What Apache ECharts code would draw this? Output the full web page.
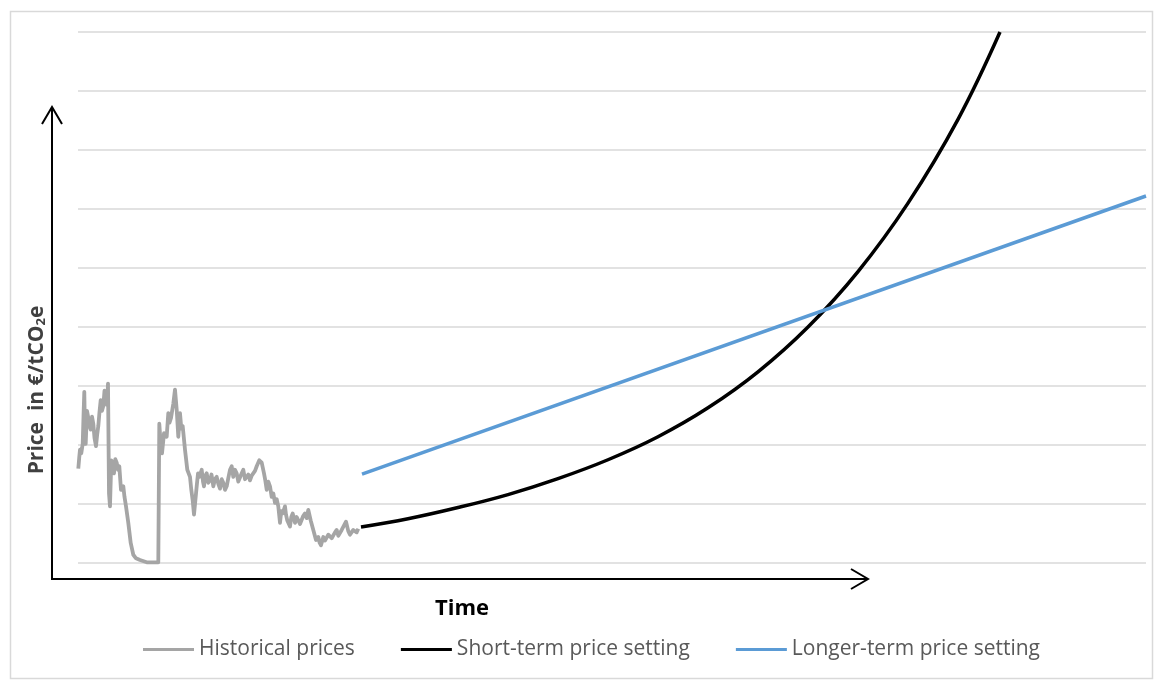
<!DOCTYPE html>
<html>
<head>
<meta charset="utf-8">
<title>Carbon price scenarios</title>
<script src="https://cdn.jsdelivr.net/npm/echarts@6/dist/echarts.min.js"></script>
<style>
  html, body { margin: 0; padding: 0; background: #fff; }
  #chart { width: 1154px; height: 680px; }
</style>
</head>
<body>
<div id="chart"></div>
<script>
// series names
const seriesNames = ['Historical prices', 'Short-term price setting', 'Longer-term price setting']

// historical prices (time units, price units - one gridline = 5)
const histTime = [0.3, 1.2, 2, 3.3, 4.7, 5.5, 6.3, 7, 7.7, 9, 10.3, 11.5, 12.7, 14, 15.3, 16.5, 18, 19.2, 20.3, 21.5, 22.7, 24, 25.3, 26.5, 27.7, 29, 30,
  31, 32, 33.3, 34.5, 36, 37.3, 38.7, 40, 41.3, 43, 45.3, 46.5, 48, 50.3, 52.7, 55.3, 58, 62, 68.7, 80.3,
  81.3, 82.7, 84, 86, 88.7, 90.3, 91.5, 93, 95.3, 97, 98.7, 100.3, 102, 103.3, 104.7, 107, 109.3, 112, 113.3, 114.7, 116,
  118.7, 120, 121.3, 123.7, 125, 126, 127.3, 128.7, 130.3, 132, 133.5, 135.3, 137, 138.7, 140.3, 142, 143.7, 145.3, 147, 148.7, 150.3, 152, 153.7,
  155.3, 157, 158.7, 160.3, 162, 163.7, 165.3, 167, 168.7, 170.3, 172, 173.7, 175.3, 177, 178.7, 181.3, 183.7, 186, 187.3, 188.7, 190.3, 192, 193.7,
  195.3, 197, 198.7, 200.3, 202, 203.3, 204.7, 207, 208, 209.3, 212, 213.3, 214.7, 217, 218.7, 220.3, 222, 223.7, 225.3, 227, 228.7, 230.3, 232.7,
  235.3, 238, 240.3, 241.7, 243, 245.3, 247, 248.7, 250.3, 252, 253.7, 255.3, 257, 258.7, 260.3, 262, 263.7, 265.3, 268, 270.3, 272,
  273.7, 275.3, 277, 278.7, 280.3]
const histPrice = [8.0, 8.9, 9.6, 9.3, 10.1, 12.4, 14.5, 11.0, 10.1, 12.9, 12.3, 11.6, 11.3, 12.4, 11.8, 10.6, 9.9, 10.9, 11.6, 12.8, 13.8, 12.9, 13.3, 14.6, 14.1, 13.4, 15.2,
  5.9, 4.8, 8.7, 8.0, 7.6, 8.8, 8.5, 7.9, 8.2, 6.2, 6.5, 5.6, 4.8, 3.4, 1.7, 0.7, 0.4, 0.25, 0.06, 0.06,
  11.8, 10.1, 9.3, 11.0, 10.7, 12.7, 11.9, 12.3, 13.5, 14.7, 13.0, 10.7, 12.7, 11.4, 11.6, 9.6, 7.9, 7.3, 6.2, 5.3, 4.1,
  6.5, 7.6, 7.3, 7.9, 6.9, 6.5, 7.4, 7.6, 6.8, 7.0, 7.5, 6.5, 7.1, 7.3, 6.7, 6.3, 7.1, 6.8, 6.2, 6.5, 7.2, 7.9, 8.2,
  7.3, 7.9, 7.6, 6.9, 7.0, 7.6, 7.9, 7.1, 7.3, 7.5, 7.0, 7.4, 7.3, 7.8, 8.2, 8.7, 8.5, 7.6, 7.0, 6.2, 6.9, 6.5, 5.6,
  5.9, 5.1, 5.4, 4.8, 3.4, 4.4, 4.2, 4.8, 4.1, 3.6, 3.1, 3.9, 4.2, 3.4, 3.9, 3.9, 3.3, 3.4, 4.0, 4.2, 3.8, 4.5, 3.6,
  2.8, 1.95, 2.2, 1.7, 1.5, 2.2, 1.9, 1.95, 2.4, 2.5, 2.1, 2.2, 2.6, 2.8, 2.3, 2.4, 2.8, 2.7, 3.5, 2.7, 2.4,
  2.5, 2.8, 2.9, 2.6, 2.9]

// short-term price setting (steep curve)
const shortTime = [283, 330, 380, 430, 480, 530, 580, 630, 680, 730, 780, 830, 880, 922]
const shortPrice = [3.05, 3.75, 4.7, 5.8, 7.15, 8.75, 10.7, 13.15, 16.2, 20.0, 24.7, 30.5, 37.6, 45]

// longer-term price setting (straight line)
const longTime = [284, 1068]
const longPrice = [7.54, 31.1]

const zip = (xs, ys) => xs.map((x, i) => [x, ys[i]])

const chart = echarts.init(document.getElementById('chart'))

const legendText = { color: '#595959', fontSize: 21, fontFamily: 'Open Sans' }

const option = {
  animation: false,
  backgroundColor: '#fff',
  grid: {
    left: 78,
    top: 32,
    width: 1068,
    height: 531
  },
  xAxis: {
    type: 'value',
    min: 0,
    max: 1068,
    show: false
  },
  yAxis: {
    type: 'value',
    min: 0,
    max: 45,
    interval: 5,
    axisLine: { show: false },
    axisTick: { show: false },
    axisLabel: { show: false },
    splitLine: { lineStyle: { color: '#d9d9d9', width: 1.5 } }
  },
  legend: {
    left: 138,
    top: 634,
    itemGap: 46,
    itemWidth: 51,
    itemHeight: 3,
    icon: 'rect',
    textStyle: legendText,
    data: seriesNames
  },
  series: [
    {
      name: seriesNames[0],
      type: 'line',
      data: zip(histTime, histPrice),
      showSymbol: false,
      color: '#a5a5a5',
      lineStyle: { color: '#a5a5a5', width: 3.8, join: 'round' }
    },
    {
      name: seriesNames[1],
      type: 'line',
      data: zip(shortTime, shortPrice),
      smooth: 0.4,
      showSymbol: false,
      color: '#000000',
      lineStyle: { color: '#000000', width: 3.5 }
    },
    {
      name: seriesNames[2],
      type: 'line',
      data: zip(longTime, longPrice),
      showSymbol: false,
      color: '#5b9bd5',
      lineStyle: { color: '#5b9bd5', width: 3.5 }
    }
  ],
  graphic: [
    // outer frame
    {
      type: 'rect',
      shape: { x: 10.5, y: 11.5, width: 1142, height: 667 },
      style: { fill: 'none', stroke: '#d9d9d9', lineWidth: 1.5 },
      silent: true
    },
    // hand drawn axes with open arrow heads
    {
      type: 'polyline',
      shape: { points: [[52, 579], [52, 107]] },
      style: { stroke: '#000', lineWidth: 2, fill: 'none' }
    },
    {
      type: 'polyline',
      shape: { points: [[42, 124], [52, 107], [62, 124]] },
      style: { stroke: '#000', lineWidth: 2, fill: 'none' }
    },
    {
      type: 'polyline',
      shape: { points: [[51, 579], [868, 579]] },
      style: { stroke: '#000', lineWidth: 2, fill: 'none' }
    },
    {
      type: 'polyline',
      shape: { points: [[851, 569], [868, 579], [851, 589]] },
      style: { stroke: '#000', lineWidth: 2, fill: 'none' }
    },
    {
      type: 'text',
      x: 462,
      y: 609,
      style: {
        text: 'Time',
        fill: '#000',
        font: 'bold 22px "Open Sans"',
        align: 'center',
        verticalAlign: 'middle'
      }
    },
    {
      type: 'text',
      x: 37,
      y: 390,
      rotation: Math.PI / 2,
      style: {
        text: '{a|Price  in €/tCO}{s|2}{a|e}',
        align: 'center',
        verticalAlign: 'middle',
        rich: {
          a: { fill: '#404040', font: 'bold 21px "Open Sans"', verticalAlign: 'middle' },
          s: { fill: '#404040', font: 'bold 13px "Open Sans"', verticalAlign: 'bottom', padding: [9, 0, 0, 0] }
        }
      }
    }
  ]
}

chart.setOption(option)
</script>
</body>
</html>
